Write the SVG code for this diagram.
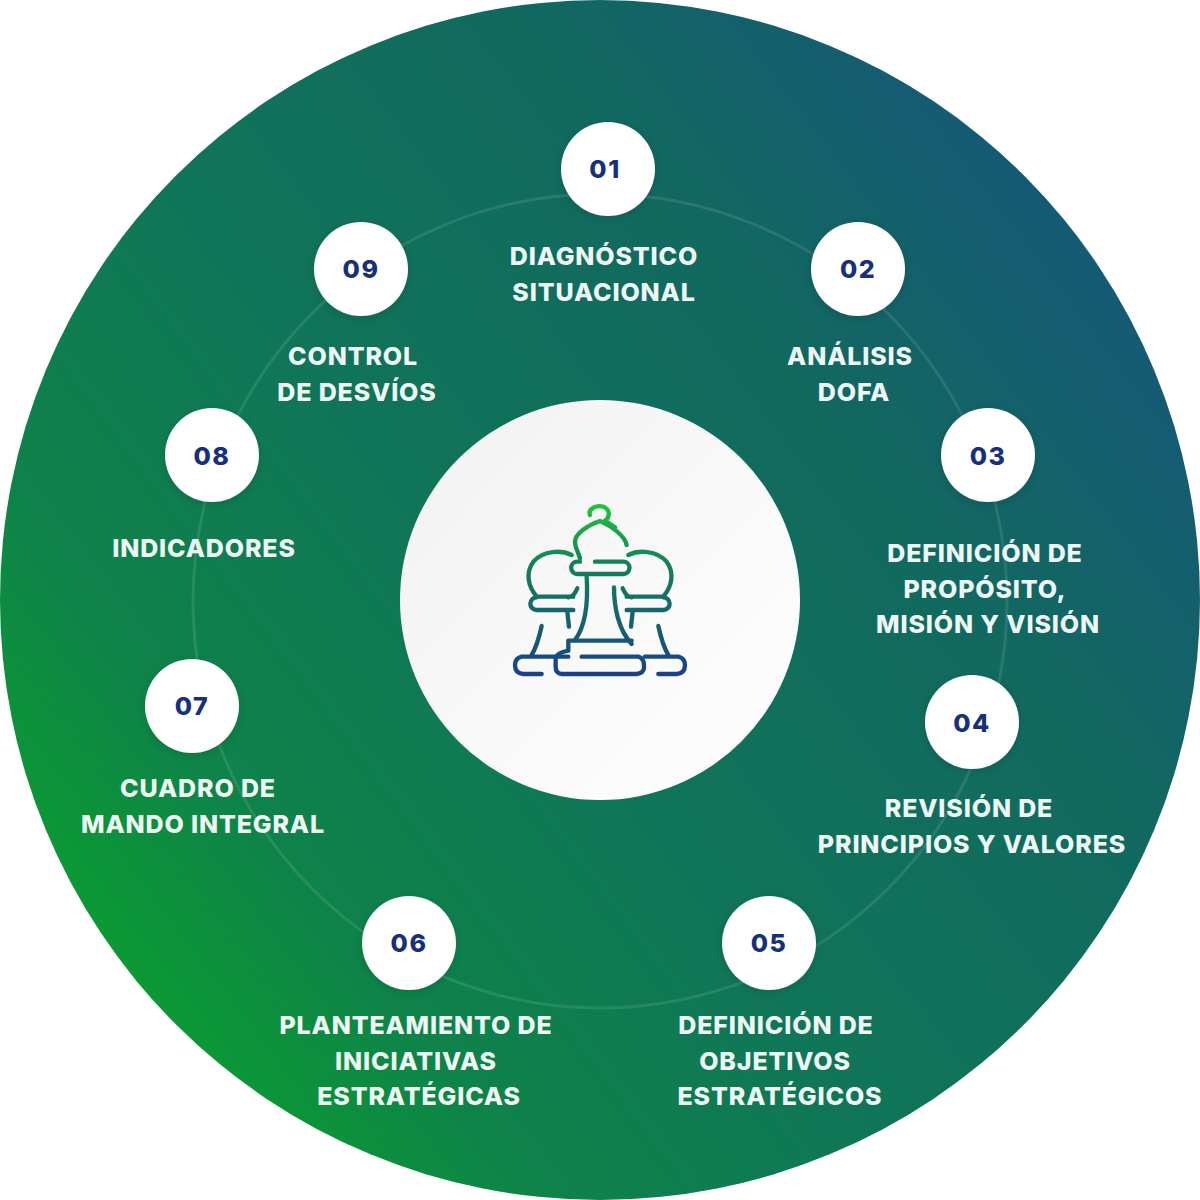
<svg xmlns="http://www.w3.org/2000/svg" width="1200" height="1200" viewBox="0 0 1200 1200">
<defs>
<linearGradient id="bg" gradientUnits="userSpaceOnUse" x1="90" y1="1020" x2="1090" y2="260"><stop offset="0" stop-color="#0aa02d"/><stop offset=".2" stop-color="#0e8349"/><stop offset=".45" stop-color="#107558"/><stop offset=".75" stop-color="#11695f"/><stop offset="1" stop-color="#155a74"/></linearGradient>
<linearGradient id="hub" x1="0" y1="0" x2="1" y2="1"><stop offset="0" stop-color="#f1f1f1"/><stop offset=".55" stop-color="#f9f9f9"/><stop offset="1" stop-color="#ffffff"/></linearGradient>
<linearGradient id="ic" gradientUnits="userSpaceOnUse" x1="0" y1="40" x2="0" y2="560"><stop offset="0" stop-color="#22c63a"/><stop offset=".35" stop-color="#138058"/><stop offset=".7" stop-color="#166070"/><stop offset="1" stop-color="#1b3f88"/></linearGradient>
<filter id="sh" x="-30%" y="-30%" width="160%" height="160%"><feDropShadow dx="0" dy="2" stdDeviation="5" flood-color="#000" flood-opacity=".14"/></filter>
</defs>
<style>
.n{fill:#fff;filter:url(#sh)}
.d{font:800 25px Inter,"Liberation Sans",sans-serif;fill:#16307c;text-anchor:middle;letter-spacing:1.5px}
.l{font:800 25px Inter,"Liberation Sans",sans-serif;fill:#eef6f3;text-anchor:middle;letter-spacing:.85px}
.i{fill:none;stroke:url(#ic);stroke-width:13;stroke-linecap:round;stroke-linejoin:round}
</style>
<rect width="1200" height="1200" fill="#fff"/>
<circle id="disc" cx="600" cy="600" r="600" fill="url(#bg)"/>
<g id="connectors"><circle cx="600" cy="601" r="407" fill="none" stroke="#fff" stroke-opacity=".1" stroke-width="3"/></g>
<g id="hub-node"><circle cx="600" cy="600" r="200" fill="url(#hub)"/>
<g transform="translate(490 490) scale(.3333)" class="i">
<path d="M300 75C293 55 320 45 340 50C360 58 362 80 345 92L375 112"/>
<path d="M410 165C405 140 370 110 330 93C295 105 255 130 255 155C255 175 265 185 270 205"/>
<path d="M270 215H262a18 18 0 0 0 0 37H400a18 18 0 0 0 0-37H315"/>
<path d="M290 260C295 340 285 410 255 450"/><path d="M372 292C372 350 385 420 425 462"/>
<path d="M425 452H235V482Q200 488 197 505V530Q197 550 215 552H440Q460 550 462 535V525Q462 505 445 500H275"/>
<path d="M245 195C215 180 160 180 130 215C105 250 115 290 140 320H250M262 295C255 310 250 320 235 322M140 322a18 18 0 0 0 0 38H250M232 365L237 410"/>
<path d="M415 195C445 180 500 180 530 215C555 250 545 290 520 320H410M398 295C405 310 410 320 425 322M520 322a18 18 0 0 1 0 38H410M428 365L423 410"/>
<path d="M155 408C148 440 140 470 125 495M235 500H95Q75 505 75 525Q75 550 100 552H155"/>
<path d="M505 408C512 440 520 470 535 495M465 500H565Q585 505 585 525Q585 550 560 552H505"/>
</g></g>
<g id="n1"><circle class="n" cx="608" cy="169" r="47"/><text class="d" x="605" y="178">01</text><text class="l" x="604" y="265">DIAGNÓSTICO</text><text class="l" x="604" y="301">SITUACIONAL</text></g>
<g id="n2"><circle class="n" cx="858" cy="269" r="47"/><text class="d" x="858" y="278">02</text><text class="l" x="850" y="365">ANÁLISIS</text><text class="l" x="854" y="401">DOFA</text></g>
<g id="n3"><circle class="n" cx="988" cy="455" r="47"/><text class="d" x="988" y="465">03</text><text class="l" x="985" y="562">DEFINICIÓN DE</text><text class="l" x="985" y="598">PROPÓSITO,</text><text class="l" x="988" y="633">MISIÓN Y VISIÓN</text></g>
<g id="n4"><circle class="n" cx="972" cy="722" r="47"/><text class="d" x="972" y="732">04</text><text class="l" x="969" y="817">REVISIÓN DE</text><text class="l" x="972" y="853">PRINCIPIOS Y VALORES</text></g>
<g id="n5"><circle class="n" cx="769" cy="943" r="47"/><text class="d" x="769" y="952">05</text><text class="l" x="776" y="1034">DEFINICIÓN DE</text><text class="l" x="775" y="1070">OBJETIVOS</text><text class="l" x="780" y="1105">ESTRATÉGICOS</text></g>
<g id="n6"><circle class="n" cx="409" cy="943" r="47"/><text class="d" x="409" y="952">06</text><text class="l" x="416" y="1034">PLANTEAMIENTO DE</text><text class="l" x="416" y="1070">INICIATIVAS</text><text class="l" x="419" y="1105">ESTRATÉGICAS</text></g>
<g id="n7"><circle class="n" cx="192" cy="706" r="47"/><text class="d" x="192" y="715">07</text><text class="l" x="198" y="797">CUADRO DE</text><text class="l" x="203" y="833">MANDO INTEGRAL</text></g>
<g id="n8"><circle class="n" cx="212" cy="455" r="47"/><text class="d" x="212" y="465">08</text><text class="l" x="204" y="557">INDICADORES</text></g>
<g id="n9"><circle class="n" cx="361" cy="269" r="47"/><text class="d" x="361" y="278">09</text><text class="l" x="353" y="365">CONTROL</text><text class="l" x="357" y="401">DE DESVÍOS</text></g>
</svg>
